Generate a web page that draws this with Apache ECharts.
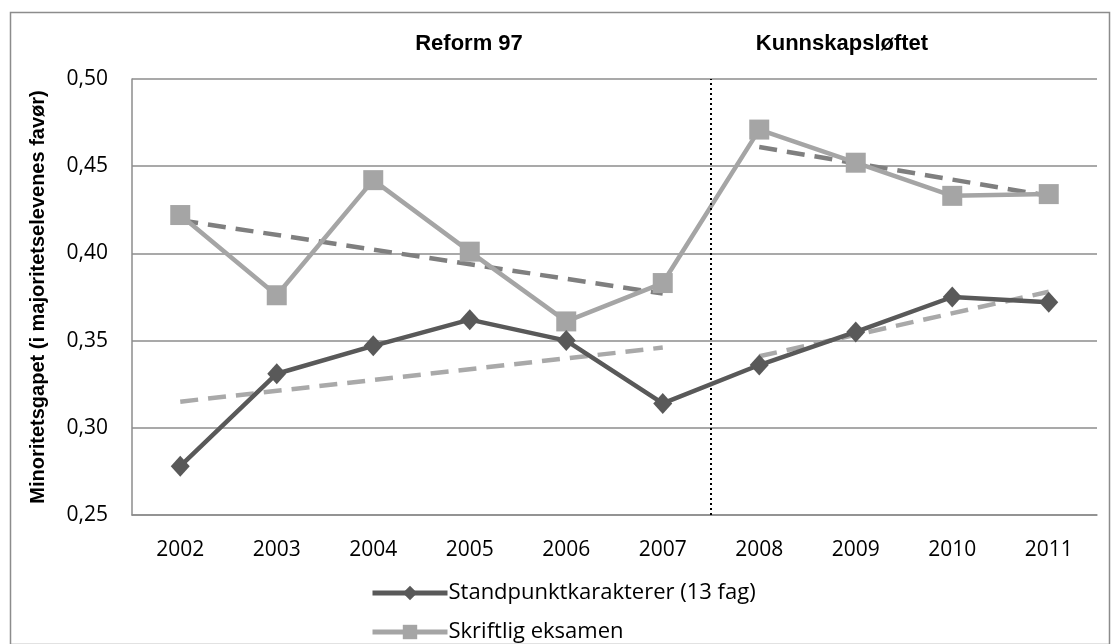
<!DOCTYPE html>
<html>
<head>
<meta charset="utf-8">
<script src="https://cdn.jsdelivr.net/npm/echarts@6/dist/echarts.min.js"></script>
<style>
  html, body { margin: 0; padding: 0; background: #fff; }
  #chart { width: 1115px; height: 644px; }
</style>
</head>
<body>
<div id="chart"></div>
<script>
  // årstall og verdier lest av figuren
  const years = ['2002', '2003', '2004', '2005', '2006', '2007', '2008', '2009', '2010', '2011'];
  const standpunkt = [0.278, 0.331, 0.347, 0.362, 0.350, 0.314, 0.336, 0.355, 0.375, 0.372];
  const skriftlig = [0.422, 0.376, 0.442, 0.401, 0.361, 0.383, 0.471, 0.452, 0.433, 0.434];
  // trendlinjer (kun endepunkter per periode)
  const trendSkriftligR97 = [0.419, null, null, null, null, 0.377, null, null, null, null];
  const trendSkriftligKL = [null, null, null, null, null, null, 0.461, null, null, 0.433];
  const trendStandR97 = [0.315, null, null, null, null, 0.346, null, null, null, null];
  const trendStandKL = [null, null, null, null, null, null, 0.341, null, null, 0.378];
  const yTicks = [0.25, 0.30, 0.35, 0.40, 0.45, 0.50];
  const reformSkille = 6; // grense mellom 2007 og 2008

  const chart = echarts.init(document.getElementById('chart'));

  const baseFont = '"Open Sans", "Noto Sans", sans-serif';
  const boldFont = '"Liberation Sans", Arial, sans-serif';

  const trend = (data, color) => ({
    type: 'line',
    data: data,
    connectNulls: true,
    symbol: 'none',
    silent: true,
    z: 3,
    lineStyle: { color: color, width: 4.5, type: [18, 10] },
  });

  const legendItem = (name, top) => ({
    orient: 'vertical',
    left: 370,
    top: top,
    padding: 0,
    itemWidth: 75,
    itemHeight: 18,
    data: [name],
    lineStyle: { width: 5 },
    textStyle: { fontSize: 22, color: '#000', fontFamily: baseFont, padding: [0, 0, 0, -4] },
  });

  const option = {
    animation: false,
    textStyle: { fontFamily: baseFont },
    graphic: [
      {
        type: 'rect',
        left: 8, top: 10,
        shape: { width: 1099, height: 632 },
        style: { fill: 'none', stroke: '#8c8c8c', lineWidth: 1.5 },
      },
      {
        type: 'text',
        x: 469, y: 44,
        style: {
          text: 'Reform 97', fill: '#000', align: 'center', verticalAlign: 'middle',
          font: 'bold 22px ' + boldFont,
        },
      },
      {
        type: 'text',
        x: 842, y: 44,
        style: {
          text: 'Kunnskapsløftet', fill: '#000', align: 'center', verticalAlign: 'middle',
          font: 'bold 22px ' + boldFont,
        },
      },
    ],
    legend: [
      legendItem('Standpunktkarakterer (13 fag)', 582),
      legendItem('Skriftlig eksamen', 621),
    ],
    grid: { left: 132, right: 18, top: 79, bottom: 129 },
    xAxis: [
      {
        type: 'category',
        data: years,
        boundaryGap: true,
        axisLine: { lineStyle: { color: '#8c8c8c', width: 1.5 } },
        axisTick: { show: false },
        axisLabel: { fontSize: 21, color: '#000', margin: 25 },
      },
      {
        type: 'value',
        min: 0,
        max: 10,
        show: false,
      },
    ],
    yAxis: {
      type: 'value',
      min: yTicks[0],
      max: yTicks[yTicks.length - 1],
      interval: 0.05,
      name: 'Minoritetsgapet (i majoritetselevenes favør)',
      nameLocation: 'middle',
      nameGap: 84,
      nameTextStyle: {
        fontSize: 20, fontWeight: 'bold', color: '#000',
        fontFamily: boldFont,
      },
      axisLine: { show: true, lineStyle: { color: '#8c8c8c', width: 1.5 } },
      axisTick: { show: false },
      splitLine: { lineStyle: { color: '#8c8c8c', width: 1.5 } },
      axisLabel: {
        fontSize: 21, color: '#000', margin: 24,
        formatter: (v) => v.toFixed(2).replace('.', ','),
      },
    },
    series: [
      {
        name: 'Skriftlig eksamen',
        type: 'line',
        data: skriftlig,
        symbol: 'rect',
        symbolSize: 20,
        z: 4,
        itemStyle: { color: '#a5a5a5' },
        lineStyle: { color: '#a5a5a5', width: 4.5 },
      },
      {
        name: 'Standpunktkarakterer (13 fag)',
        type: 'line',
        data: standpunkt,
        symbol: 'diamond',
        symbolSize: [19, 21],
        z: 5,
        itemStyle: { color: '#595959' },
        lineStyle: { color: '#595959', width: 4.5 },
      },
      trend(trendSkriftligR97, '#7f7f7f'),
      trend(trendSkriftligKL, '#7f7f7f'),
      trend(trendStandR97, '#a9a9a9'),
      trend(trendStandKL, '#a9a9a9'),
      {
        type: 'line',
        xAxisIndex: 1,
        data: [],
        silent: true,
        markLine: {
          symbol: 'none',
          silent: true,
          label: { show: false },
          lineStyle: { color: '#000', width: 2, type: [2, 3] },
          data: [{ xAxis: reformSkille }],
        },
      },
    ],
  };

  chart.setOption(option);
</script>
</body>
</html>
